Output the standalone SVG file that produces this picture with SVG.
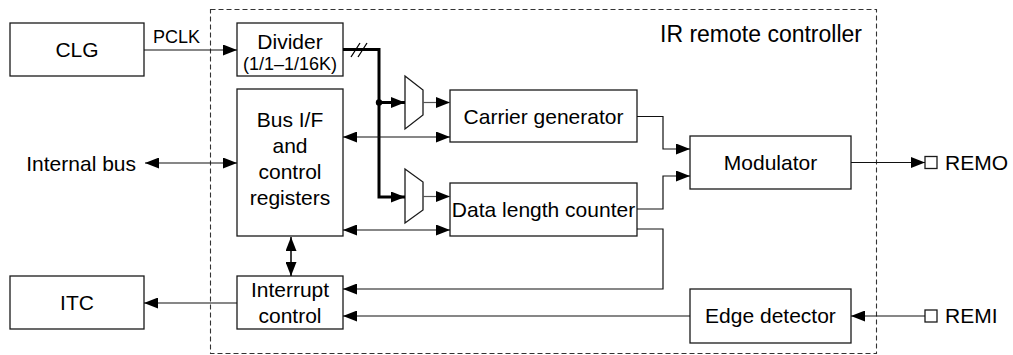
<svg xmlns="http://www.w3.org/2000/svg" width="1013" height="355" viewBox="0 0 1013 355">
<defs>
<style>
.box{fill:#fff;stroke:#1a1a1a;stroke-width:1.3}
.t{font-family:"Liberation Sans",Arial,Helvetica,sans-serif;font-size:21px;fill:#000;text-anchor:middle}
.l{fill:none;stroke:#111;stroke-width:1.2}
.b{fill:none;stroke:#000;stroke-width:3}
.g{fill:none;stroke:#555;stroke-width:1.2}
</style>
<marker id="ah" markerUnits="userSpaceOnUse" markerWidth="14" markerHeight="11" refX="14" refY="5.5" orient="auto-start-reverse">
<path d="M0,0 L14,5.5 L0,11 z" fill="#000"/>
</marker>
</defs>
<rect x="210.5" y="9.5" width="666" height="344" fill="none" stroke="#333" stroke-width="1.1" stroke-dasharray="5 3"/>
<text class="t" x="862" y="42" style="font-size:23px;text-anchor:end">IR remote controller</text>

<g id="clg"><rect class="box" x="10" y="23" width="134" height="53"/><text class="t" x="77" y="57">CLG</text></g>
<g id="itc"><rect class="box" x="10" y="276" width="134" height="53"/><text class="t" x="77" y="310">ITC</text></g>
<g id="divider"><rect class="box" x="237" y="23" width="106" height="53"/><text class="t" x="290" y="48.5">Divider</text><text class="t" x="290" y="70" style="font-size:18px">(1/1–1/16K)</text></g>
<g id="busif"><rect class="box" x="237" y="89" width="106" height="147"/><text class="t" x="290" y="127">Bus I/F</text><text class="t" x="290" y="153">and</text><text class="t" x="290" y="179">control</text><text class="t" x="290" y="205">registers</text></g>
<g id="intctrl"><rect class="box" x="237" y="276" width="106" height="53"/><text class="t" x="290" y="297">Interrupt</text><text class="t" x="290" y="323">control</text></g>
<g id="carrier"><rect class="box" x="450" y="90" width="187" height="52"/><text class="t" x="543.5" y="123.5">Carrier generator</text></g>
<g id="dlc"><rect class="box" x="450" y="183" width="187" height="53"/><text class="t" x="543.5" y="216.5">Data length counter</text></g>
<g id="modulator"><rect class="box" x="690" y="136" width="161" height="53"/><text class="t" x="770.5" y="170">Modulator</text></g>
<g id="edge"><rect class="box" x="690" y="289" width="161" height="54"/><text class="t" x="770.5" y="323">Edge detector</text></g>
<g id="mux1"><path class="box" d="M405,76 L423,90 L423,115 L405,129 z"/></g>
<g id="mux2"><path class="box" d="M405,169 L423,182 L423,210 L405,223 z"/></g>
<g id="remo"><rect class="box" x="925" y="156.5" width="12" height="12"/><text class="t" x="945" y="170" style="text-anchor:start">REMO</text></g>
<g id="remi"><rect class="box" x="925" y="310" width="12" height="12"/><text class="t" x="945" y="323" style="text-anchor:start">REMI</text></g>
<g id="internalbus"><text class="t" x="136" y="170.5" style="text-anchor:end">Internal bus</text></g>

<g id="connectors">
<path class="l" d="M144,50 H237" marker-end="url(#ah)"/>
<text class="t" x="176.5" y="43" style="font-size:18px">PCLK</text>
<path class="b" d="M343,49.5 H379 V197 H405" marker-end="url(#ah)"/>
<path class="b" d="M379,102.5 H405" marker-end="url(#ah)"/>
<circle cx="379" cy="102.5" r="3.2" fill="#000"/>
<path d="M351,57 L360,43 M358,57 L367,43" stroke="#000" stroke-width="1.3" fill="none"/>
<path class="g" d="M423,102.5 H450" marker-end="url(#ah)"/>
<path class="g" d="M423,196.5 H450" marker-end="url(#ah)"/>
<path class="l" d="M145,163 H237" marker-start="url(#ah)" marker-end="url(#ah)"/>
<path class="l" d="M343,137 H450" marker-start="url(#ah)" marker-end="url(#ah)"/>
<path class="l" d="M343,230 H450" marker-start="url(#ah)" marker-end="url(#ah)"/>
<path class="l" d="M291,237 V276" marker-start="url(#ah)" marker-end="url(#ah)" style="stroke-width:1.6"/>
<path class="l" d="M637,116.5 H663 V149 H690" marker-end="url(#ah)"/>
<path class="l" d="M637,209 H663 V176 H690" marker-end="url(#ah)"/>
<path class="l" d="M637,229 H663 V289 H343" marker-end="url(#ah)"/>
<path class="l" d="M690,316 H343" marker-end="url(#ah)"/>
<path class="l" d="M925,316 H851" marker-end="url(#ah)"/>
<path class="l" d="M851,162.5 H925" marker-end="url(#ah)"/>
<path class="l" d="M237,303 H144" marker-end="url(#ah)"/>
</g>
</svg>
